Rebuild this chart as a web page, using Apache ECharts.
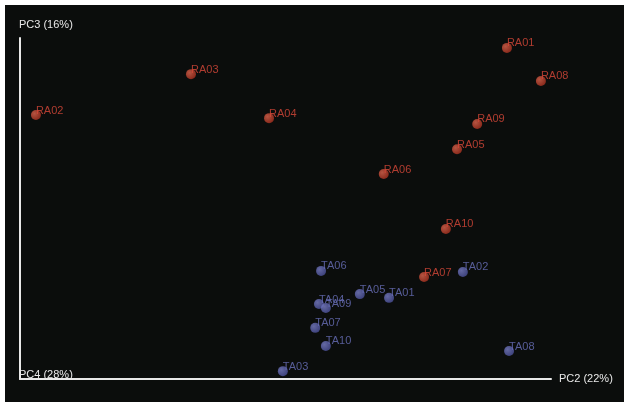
<!DOCTYPE html>
<html>
<head>
<meta charset="utf-8">
<script src="https://cdn.jsdelivr.net/npm/echarts@6/dist/echarts.min.js"></script>
<style>
  html, body { margin: 0; padding: 0; background: #ffffff; }
  #main { width: 624px; height: 402px; }
</style>
</head>
<body>
<div id="main"></div>
<script>
// RA 组样本 (PC2, PC3)
var raNames = ["RA01", "RA02", "RA03", "RA04", "RA05", "RA06", "RA07", "RA08", "RA09", "RA10"];
var raPC2 = [91.7, 3.0, 32.2, 46.9, 82.3, 68.5, 76.1, 98.1, 86.1, 80.2];
var raPC3 = [97.1, 77.4, 89.4, 76.5, 67.4, 60.1, 29.9, 87.4, 74.8, 44.0];
// TA 组样本 (PC2, PC3)
var taNames = ["TA01", "TA02", "TA03", "TA04", "TA05", "TA06", "TA07", "TA08", "TA09", "TA10"];
var taPC2 = [69.5, 83.4, 49.5, 56.3, 64.0, 56.7, 55.6, 92.1, 57.6, 57.6];
var taPC3 = [23.8, 31.4, 2.3, 22.0, 24.9, 31.7, 15.0, 8.2, 20.8, 9.7];
// 轴标题
var axisNames = ["PC2 (22%)", "PC3 (16%)", "PC4 (28%)"];

function buildData(names, xs, ys) {
  var arr = [];
  for (var i = 0; i < names.length; i++) {
    arr.push({ name: names[i], value: [xs[i], ys[i]] });
  }
  return arr;
}

// 球形渐变
function ball(c1, c2) {
  return new echarts.graphic.RadialGradient(0.35, 0.35, 0.7, [
    { offset: 0, color: c1 },
    { offset: 1, color: c2 }
  ]);
}

var myChart = echarts.init(document.getElementById("main"));

var labelCfg = function (color) {
  return {
    show: true,
    position: [5, -5],
    align: "left",
    verticalAlign: "top",
    formatter: "{b}",
    color: color,
    fontSize: 11,
    fontFamily: "Liberation Sans, Arial, sans-serif"
  };
};

var option = {
  backgroundColor: "#ffffff",
  animation: false,
  graphic: [{
    type: "rect",
    left: 5,
    top: 5,
    z: -10,
    shape: { width: 619, height: 397 },
    style: { fill: "#0b0d0c" }
  }, {
    type: "text",
    left: 19,
    top: 369,
    z: 10,
    style: {
      text: axisNames[2],
      fill: "#e8e8e8",
      font: "11px Liberation Sans, Arial, sans-serif"
    }
  }],
  grid: {
    left: 20,
    right: 73,
    top: 38,
    bottom: 23,
    containLabel: false
  },
  xAxis: {
    type: "value",
    min: 0,
    max: 100,
    name: axisNames[0],
    nameLocation: "end",
    nameGap: 8,
    nameTextStyle: {
      color: "#e8e8e8",
      fontSize: 11,
      fontFamily: "Liberation Sans, Arial, sans-serif",
      padding: [0, 0, 5, 0]
    },
    axisLine: { lineStyle: { color: "#e8e8e8", width: 2 } },
    axisTick: { show: false },
    axisLabel: { show: false },
    splitLine: { show: false }
  },
  yAxis: {
    type: "value",
    min: 0,
    max: 100,
    name: axisNames[1],
    nameLocation: "end",
    nameGap: 8,
    nameTextStyle: {
      color: "#e8e8e8",
      fontSize: 11,
      align: "left",
      fontFamily: "Liberation Sans, Arial, sans-serif",
      padding: [0, 0, 0, -1]
    },
    axisLine: { lineStyle: { color: "#e8e8e8", width: 2 } },
    axisTick: { show: false },
    axisLabel: { show: false },
    splitLine: { show: false }
  },
  series: [{
    name: "RA",
    type: "scatter",
    symbolSize: 10,
    itemStyle: { color: ball("#e0664f", "#a8301f") },
    label: labelCfg("#d9493a"),
    data: buildData(raNames, raPC2, raPC3)
  }, {
    name: "TA",
    type: "scatter",
    symbolSize: 10,
    itemStyle: { color: ball("#7b80c8", "#4a4f98") },
    label: labelCfg("#6a70bb"),
    data: buildData(taNames, taPC2, taPC3)
  }]
};

myChart.setOption(option);
</script>
</body>
</html>
